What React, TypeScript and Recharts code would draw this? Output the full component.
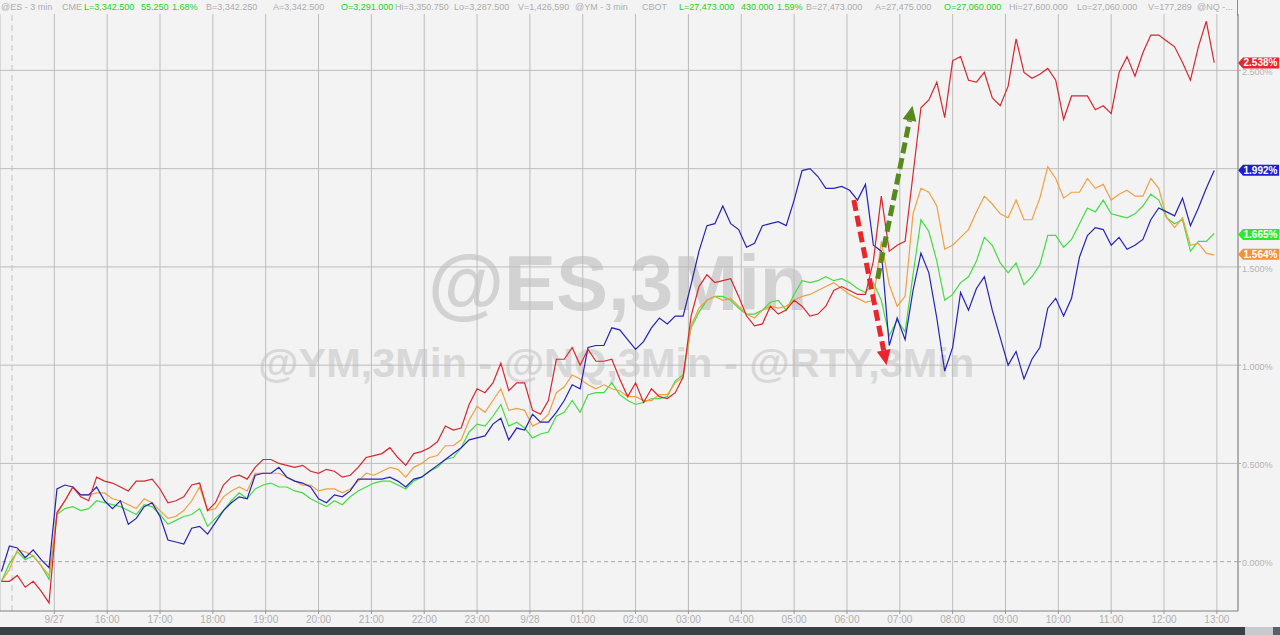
import { LineChart, Line, XAxis, YAxis, CartesianGrid, ReferenceLine } from "recharts"

// 3-minute futures, % change; one sample every three bars (0.15h), hours from the 9/27 open
const times = Array.from({ length: 154 }, (_, i) => +(-1 + i * 0.15).toFixed(2))

const hourTicks = [0, 1, 2, 3, 4, 5, 6, 7, 8, 9, 10, 11, 12, 13, 14, 15, 16, 17, 18, 19, 20, 21, 22]
const hourLabels = [
  "9/27", "16:00", "17:00", "18:00", "19:00", "20:00", "21:00", "22:00", "23:00",
  "9/28", "01:00", "02:00", "03:00", "04:00", "05:00", "06:00", "07:00", "08:00",
  "09:00", "10:00", "11:00", "12:00", "13:00",
]
const gridPcts = [0.5, 1, 1.5, 2, 2.5]
// 2.000% sits under the blue badge, so it gets no label
const labelPcts = [0, 0.5, 1, 1.5, 2.5]

const nq = [
  -0.10, -0.10, -0.07, -0.13, -0.10, -0.15, -0.21,
  0.25, 0.31, 0.38, 0.33, 0.31, 0.43, 0.41, 0.40, 0.38, 0.36, 0.41, 0.41, 0.42, 0.37, 0.30, 0.31, 0.33, 0.39, 0.40, 0.26, 0.30, 0.39, 0.43, 0.44,
  0.42, 0.48, 0.52, 0.52, 0.50, 0.49, 0.48, 0.49, 0.46, 0.45, 0.47, 0.46, 0.43, 0.44, 0.48, 0.53, 0.54, 0.55, 0.58, 0.53, 0.49, 0.55, 0.56, 0.58, 0.61, 0.69, 0.67, 0.68, 0.80,
  0.88, 0.86, 0.91, 1.01, 0.87, 0.91, 0.91, 0.77, 0.75, 0.82, 1.03, 1.03, 1.09, 1.00, 1.08, 1.02, 1.02, 1.03, 0.93, 0.84, 0.91, 0.81, 0.88, 0.84, 0.83, 0.86, 0.94, 1.25, 1.40,
  1.46, 1.42, 1.43, 1.44, 1.35, 1.25, 1.20, 1.21, 1.30, 1.26, 1.28, 1.33, 1.30, 1.25, 1.26, 1.30, 1.38, 1.40, 1.38, 1.36,
  1.36, 1.53, 1.86, 1.58, 1.61, 1.63, 1.97, 2.31, 2.35, 2.44, 2.26, 2.55, 2.57, 2.45, 2.44, 2.49, 2.36, 2.32, 2.42, 2.66,
  2.49, 2.46, 2.48, 2.51, 2.45, 2.25, 2.37, 2.37,
  2.37, 2.30, 2.32, 2.28, 2.49, 2.57, 2.47, 2.59, 2.68, 2.68, 2.65, 2.62, 2.54, 2.45, 2.62, 2.75, 2.54,
]

const rty = [
  -0.05, 0.08, 0.07, 0.02, 0.06, 0.01, -0.03,
  0.37, 0.39, 0.38, 0.34, 0.34, 0.38, 0.31, 0.27, 0.31, 0.19, 0.22, 0.28, 0.30, 0.23, 0.11, 0.10, 0.09, 0.17, 0.18, 0.14, 0.20, 0.26, 0.30, 0.33,
  0.32, 0.44, 0.45, 0.45, 0.48, 0.43, 0.41, 0.40, 0.38, 0.32, 0.30, 0.34, 0.33, 0.36, 0.42, 0.42, 0.42, 0.42, 0.43, 0.41, 0.38, 0.42, 0.43, 0.46, 0.49, 0.52, 0.55, 0.58, 0.62,
  0.63, 0.64, 0.70, 0.73, 0.62, 0.68, 0.67, 0.75, 0.71, 0.71, 0.76, 0.82, 0.90, 0.88, 1.09, 1.10, 1.10, 1.19, 1.18, 1.13, 1.08, 1.12, 1.19, 1.24, 1.21, 1.25, 1.25, 1.41, 1.58,
  1.71, 1.72, 1.81, 1.72, 1.69, 1.60, 1.62, 1.71, 1.72, 1.73, 1.71, 1.84, 1.99, 2.00, 1.96, 1.90, 1.90, 1.91, 1.89, 1.84,
  1.92, 1.61, 1.58, 1.10, 1.24, 1.13, 1.38, 1.57, 1.47, 1.24, 0.97, 1.09, 1.37, 1.28, 1.39, 1.45, 1.28, 1.14, 1.00, 1.07,
  0.93, 1.03, 1.09, 1.29, 1.34, 1.25, 1.34, 1.55,
  1.66, 1.70, 1.69, 1.61, 1.65, 1.59, 1.61, 1.64, 1.74, 1.80, 1.78, 1.76, 1.85, 1.71, 1.80, 1.90, 1.99,
]

const ym = [
  -0.10, -0.04, 0.06, 0.05, 0.03, -0.02, -0.07,
  0.24, 0.31, 0.38, 0.34, 0.34, 0.35, 0.35, 0.32, 0.31, 0.29, 0.27, 0.32, 0.30, 0.26, 0.22, 0.23, 0.26, 0.31, 0.38, 0.26, 0.27, 0.33, 0.36, 0.38,
  0.36, 0.45, 0.45, 0.45, 0.45, 0.43, 0.41, 0.39, 0.39, 0.36, 0.37, 0.37, 0.35, 0.37, 0.41, 0.45, 0.44, 0.46, 0.48, 0.47, 0.43, 0.48, 0.50, 0.53, 0.54, 0.59, 0.59, 0.62, 0.72,
  0.79, 0.76, 0.82, 0.88, 0.77, 0.78, 0.77, 0.69, 0.71, 0.75, 0.86, 0.89, 0.95, 0.93, 0.90, 0.88, 0.90, 0.88, 0.87, 0.84, 0.84, 0.82, 0.82, 0.85, 0.85, 0.91, 0.94, 1.20, 1.29,
  1.33, 1.35, 1.33, 1.34, 1.30, 1.26, 1.24, 1.28, 1.30, 1.29, 1.30, 1.33, 1.35, 1.36, 1.38, 1.40, 1.42, 1.39, 1.36, 1.34,
  1.32, 1.33, 1.63, 1.41, 1.30, 1.35, 1.77, 1.90, 1.88, 1.81, 1.59, 1.61, 1.65, 1.69, 1.78, 1.86, 1.82, 1.77, 1.75, 1.84,
  1.74, 1.74, 1.85, 2.01, 1.95, 1.85, 1.88, 1.88,
  1.95, 1.90, 1.92, 1.84, 1.87, 1.89, 1.86, 1.86, 1.95, 1.90, 1.75, 1.70, 1.75, 1.61, 1.62, 1.57, 1.56,
]

const es = [
  -0.10, -0.01, 0.05, 0.01, 0.03, -0.02, -0.09,
  0.24, 0.27, 0.28, 0.26, 0.27, 0.31, 0.30, 0.29, 0.28, 0.26, 0.24, 0.29, 0.28, 0.24, 0.19, 0.21, 0.23, 0.24, 0.27, 0.18, 0.22, 0.26, 0.31, 0.35,
  0.32, 0.37, 0.39, 0.40, 0.38, 0.38, 0.36, 0.35, 0.32, 0.30, 0.28, 0.31, 0.29, 0.33, 0.36, 0.38, 0.40, 0.41, 0.41, 0.39, 0.37, 0.41, 0.43, 0.46, 0.48, 0.52, 0.53, 0.58, 0.66,
  0.70, 0.69, 0.74, 0.80, 0.69, 0.71, 0.68, 0.63, 0.65, 0.66, 0.74, 0.76, 0.82, 0.76, 0.85, 0.86, 0.86, 0.91, 0.85, 0.82, 0.80, 0.81, 0.83, 0.83, 0.84, 0.92, 0.95, 1.19, 1.27,
  1.33, 1.35, 1.35, 1.33, 1.29, 1.26, 1.26, 1.28, 1.32, 1.33, 1.28, 1.36, 1.43, 1.42, 1.43, 1.45, 1.43, 1.44, 1.42, 1.39,
  1.37, 1.42, 1.33, 1.15, 1.23, 1.17, 1.46, 1.74, 1.68, 1.53, 1.33, 1.36, 1.42, 1.45, 1.53, 1.65, 1.61, 1.52, 1.47, 1.52,
  1.41, 1.45, 1.51, 1.66, 1.66, 1.60, 1.64, 1.72,
  1.80, 1.78, 1.84, 1.77, 1.76, 1.75, 1.77, 1.81, 1.87, 1.84, 1.75, 1.72, 1.74, 1.58, 1.63, 1.63, 1.67,
]

// last prints shown in the right-hand badges
const lastNq = 2.538
const lastRty = 1.992
const lastEs = 1.665
const lastYm = 1.564

// annotation arrows (time, %)
const dropArrow = [{ x: 15.13, y: 1.84 }, { x: 15.75, y: 1.0 }]
const riseArrow = [{ x: 15.58, y: 1.44 }, { x: 16.24, y: 2.32 }]

const rows = times.map((t, i) => ({ t, nq: nq[i], rty: rty[i], es: es[i], ym: ym[i] }))

const FONT = "'Liberation Sans', Arial, sans-serif"
const BG = "#f3f3f3"
const GRID = "#bdbdbd"

const header: [number, string, boolean][] = [
  [1, "@ES - 3 min", false], [62, "CME", false], [84, "L=3,342.500", true], [141, "55.250", true],
  [172, "1.68%", true], [206, "B=3,342.250", false], [273, "A=3,342.500", false], [341, "O=3,291.000", true],
  [395, "Hi=3,350.750", false], [454, "Lo=3,287.500", false], [518, "V=1,426,590", false], [575, "@YM - 3 min", false],
  [642, "CBOT", false], [679, "L=27,473.000", true], [741, "430.000", true], [777, "1.59%", true],
  [806, "B=27,473.000", false], [875, "A=27,475.000", false], [944, "O=27,060.000", true], [1009, "Hi=27,600.000", false],
  [1077, "Lo=27,060.000", false], [1148, "V=177,289", false], [1197, "@NQ -...", false],
]

function badge(text: string, color: string) {
  return (props: any) => {
    const vb = props.viewBox
    if (!vb) return null
    const r = vb.x + vb.width
    const y = vb.y
    return (
      <g>
        <polygon
          points={`${r},${y} ${r + 5},${y - 5.5} ${r + 41},${y - 5.5} ${r + 41},${y + 5.5} ${r + 5},${y + 5.5}`}
          fill={color}
        />
        <text x={r + 5.5} y={y + 3.5} fill="#fff" fontSize={10} fontWeight="bold" fontFamily={FONT}>
          {text}
        </text>
      </g>
    )
  }
}

function DashedArrow(props: any) {
  const { x1, y1, x2, y2, stroke } = props
  const dx = x2 - x1
  const dy = y2 - y1
  const len = Math.hypot(dx, dy)
  const ux = dx / len
  const uy = dy / len
  const head = 15
  const half = 7
  const bx = x2 - ux * head
  const by = y2 - uy * head
  return (
    <g>
      <line x1={x1} y1={y1} x2={bx} y2={by} stroke={stroke} strokeWidth={5} strokeDasharray="11 5" />
      <polygon
        points={`${x2},${y2} ${bx - uy * half},${by + ux * half} ${bx + uy * half},${by - ux * half}`}
        fill={stroke}
      />
    </g>
  )
}

export default function App() {
  return (
    <div style={{ position: "relative", width: 1280, height: 635, background: BG, overflow: "hidden" }}>
      <style>{`body{margin:0}`}</style>

      <svg width={1280} height={635} style={{ position: "absolute", left: 0, top: 0 }}>
        <text x={428} y={310} fontSize={78} fontWeight="bold" fill="#d2d2d2" fontFamily={FONT}>
          @ES,3Min
        </text>
        <text x={258} y={377} fontSize={41.5} fontWeight="bold" fill="#d8d8d8" fontFamily={FONT}>
          @YM,3Min - @NQ,3Min - @RTY,3Min
        </text>
      </svg>

      <div style={{ position: "absolute", left: 0, top: 0 }}>
        <LineChart width={1280} height={627} data={rows} margin={{ top: 14, right: 0, bottom: 0, left: 0 }}>
          <CartesianGrid horizontal={false} stroke={GRID} />
          {gridPcts.map((v) => (
            <ReferenceLine key={v} y={v} stroke={GRID} />
          ))}
          <ReferenceLine y={0} stroke="#a8a8a8" strokeDasharray="4 3" />
          <ReferenceLine x={-0.8} stroke="#c2c2c2" strokeDasharray="6 4" />
          <XAxis
            type="number"
            dataKey="t"
            domain={[-1.028, 22.4]}
            allowDataOverflow
            ticks={hourTicks}
            interval={0}
            height={16}
            tickSize={3}
            tickMargin={2}
            tickFormatter={(v: number) => hourLabels[hourTicks.indexOf(v)] ?? ""}
            tick={{ fontSize: 10, fill: "#b0b0b0", fontFamily: FONT }}
            stroke="#808080"
            tickLine={{ stroke: "#999" }}
          />
          <YAxis
            orientation="right"
            width={42}
            domain={[-0.251, 2.787]}
            allowDataOverflow
            ticks={labelPcts}
            interval={0}
            tickSize={3}
            tickMargin={1}
            tickFormatter={(v: number) => `${v.toFixed(3)}%`}
            tick={{ fontSize: 9, fill: "#b4b4b4", fontFamily: FONT, textAnchor: "start", dy: 1.5 }}
            stroke="#8a8a8a"
            tickLine={{ stroke: "#aaa" }}
          />
          <Line dataKey="es" stroke="#42dd42" strokeWidth={1.2} dot={false} type="linear" isAnimationActive={false} />
          <Line dataKey="ym" stroke="#f0a040" strokeWidth={1.2} dot={false} type="linear" isAnimationActive={false} />
          <Line dataKey="rty" stroke="#2323b8" strokeWidth={1.2} dot={false} type="linear" isAnimationActive={false} />
          <Line dataKey="nq" stroke="#d8262e" strokeWidth={1.2} dot={false} type="linear" isAnimationActive={false} />
          <ReferenceLine segment={dropArrow} stroke="#e8262b" shape={DashedArrow} />
          <ReferenceLine segment={riseArrow} stroke="#578a1c" shape={DashedArrow} />
          <ReferenceLine y={lastNq} stroke="none" label={{ content: badge(`${lastNq.toFixed(3)}%`, "#e8262b") }} />
          <ReferenceLine y={lastRty} stroke="none" label={{ content: badge(`${lastRty.toFixed(3)}%`, "#1e1ed0") }} />
          <ReferenceLine y={lastEs} stroke="none" label={{ content: badge(`${lastEs.toFixed(3)}%`, "#2ee82e") }} />
          <ReferenceLine y={lastYm} stroke="none" label={{ content: badge(`${lastYm.toFixed(3)}%`, "#f4913a") }} />
        </LineChart>
      </div>

      <svg width={1280} height={16} style={{ position: "absolute", left: 0, top: 0 }}>
        <line x1={1237.5} y1={0} x2={1237.5} y2={16} stroke="#8a8a8a" />
        {header.map(([x, text, green]) => (
          <text key={text + x} x={x} y={10} fontSize={9} fontFamily={FONT} fill={green ? "#26d026" : "#acacac"}>
            {text}
          </text>
        ))}
      </svg>

      <div style={{ position: "absolute", left: 0, top: 627, width: 1245, height: 8, background: "#3b4048" }} />
      <div style={{ position: "absolute", left: 1245, top: 627, width: 28, height: 8, background: "#c8c9cd" }} />
      <div style={{ position: "absolute", left: 1273, top: 627, width: 7, height: 8, background: "#5b6068" }} />
    </div>
  )
}
